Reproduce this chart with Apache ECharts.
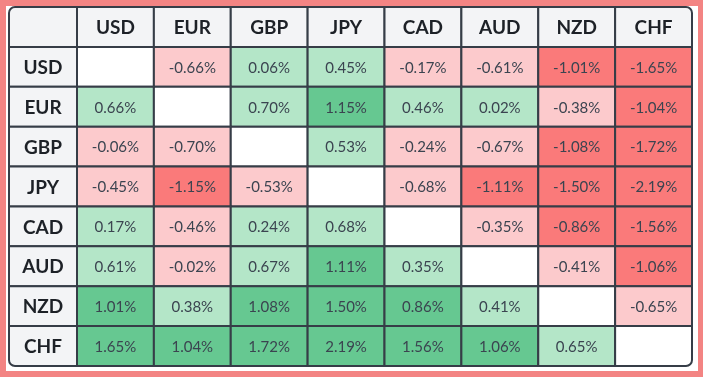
<!DOCTYPE html>
<html>
<head>
<meta charset="utf-8">
<script src="https://cdn.jsdelivr.net/npm/echarts@6/dist/echarts.min.js"></script>
<style>
  html, body { margin: 0; padding: 0; }
  body { width: 703px; height: 377px; background: #f38483; position: relative; overflow: hidden; }
  #chart { position: absolute; left: 6px; top: 6px; width: 692px; height: 365px; background: #ffffff; }
</style>
</head>
<body>
<div id="chart"></div>
<script>
// currency strength matrix: row currency vs column currency, % change
const currencies = ['USD', 'EUR', 'GBP', 'JPY', 'CAD', 'AUD', 'NZD', 'CHF']
const usd = [null, -0.66, 0.06, 0.45, -0.17, -0.61, -1.01, -1.65]
const eur = [0.66, null, 0.70, 1.15, 0.46, 0.02, -0.38, -1.04]
const gbp = [-0.06, -0.70, null, 0.53, -0.24, -0.67, -1.08, -1.72]
const jpy = [-0.45, -1.15, -0.53, null, -0.68, -1.11, -1.50, -2.19]
const cad = [0.17, -0.46, 0.24, 0.68, null, -0.35, -0.86, -1.56]
const aud = [0.61, -0.02, 0.67, 1.11, 0.35, null, -0.41, -1.06]
const nzd = [1.01, 0.38, 1.08, 1.50, 0.86, 0.41, null, -0.65]
const chf = [1.65, 1.04, 1.72, 2.19, 1.56, 1.06, 0.65, null]
const matrix = [usd, eur, gbp, jpy, cad, aud, nzd, chf]

const LINE = '#363d47'
const HEAD_BG = '#f3f4f6'
const R = 6

const cellColor = (v) => {
  if (v === null) return '#ffffff'
  if (v >= 0.8) return '#66c891'
  if (v >= 0) return '#b4e6c8'
  if (v > -0.8) return '#fccacc'
  return '#fa7a7a'
}

// row categories: header row + one per currency
const rowCats = [''].concat(currencies)

// grid 0: row header column (corner + currency names)
const headCells = rowCats.map((name, i) => ({ x: 0, y: i, text: name }))

// grid 1: column header row + value cells
const bodyCells = []
currencies.forEach((name, i) => bodyCells.push({ x: i, y: 0, text: name, head: true }))
matrix.forEach((row, r) => {
  row.forEach((v, c) => {
    bodyCells.push({ x: c, y: r + 1, value: v, text: v === null ? '' : v.toFixed(2) + '%' })
  })
})

const chart = echarts.init(document.getElementById('chart'))

const makeRender = (cells, gridIdx) => (params, api) => {
  const cell = cells[params.dataIndex]
  const p = api.coord([api.value(0), api.value(1)])
  const s = api.size([1, 1])
  const isHead = gridIdx === 0 || cell.head
  // rounded table corners
  let r = [0, 0, 0, 0]
  if (gridIdx === 0 && cell.y === 0) r = [R, 0, 0, 0]
  if (gridIdx === 0 && cell.y === 8) r = [0, 0, 0, R]
  if (gridIdx === 1 && cell.x === 7 && cell.y === 0) r = [0, R, 0, 0]
  if (gridIdx === 1 && cell.x === 7 && cell.y === 8) r = [0, 0, R, 0]
  return {
    type: 'group',
    children: [
      {
        type: 'rect',
        shape: { x: p[0] - s[0] / 2, y: p[1] - s[1] / 2, width: s[0], height: s[1], r: r },
        style: { fill: isHead ? HEAD_BG : cellColor(cell.value), stroke: LINE, lineWidth: 2 }
      },
      {
        type: 'text',
        x: p[0],
        y: p[1] + 1,
        style: {
          text: cell.text,
          align: 'center',
          verticalAlign: 'middle',
          fill: isHead ? '#1d2127' : '#3b4450',
          font: isHead ? 'bold 19px Lato' : '15px Lato'
        }
      }
    ]
  }
}

const option = {
  animation: false,
  grid: [
    { left: 3, top: 1, width: 68, height: 359 },
    { left: 71, top: 1, width: 615, height: 359 }
  ],
  xAxis: [
    { type: 'category', gridIndex: 0, data: [''], show: false },
    { type: 'category', gridIndex: 1, data: currencies, show: false }
  ],
  yAxis: [
    { type: 'category', gridIndex: 0, data: rowCats, inverse: true, show: false },
    { type: 'category', gridIndex: 1, data: rowCats, inverse: true, show: false }
  ],
  series: [
    {
      type: 'custom',
      xAxisIndex: 0,
      yAxisIndex: 0,
      data: headCells.map(c => [c.x, c.y]),
      renderItem: makeRender(headCells, 0)
    },
    {
      type: 'custom',
      xAxisIndex: 1,
      yAxisIndex: 1,
      data: bodyCells.map(c => [c.x, c.y]),
      renderItem: makeRender(bodyCells, 1)
    }
  ]
}

chart.setOption(option)
</script>
</body>
</html>
